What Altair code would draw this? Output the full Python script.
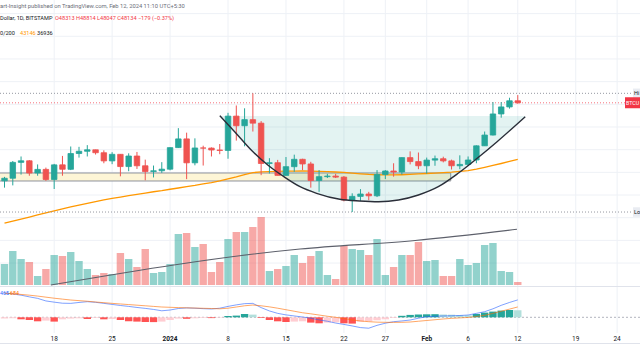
import altair as alt
import pandas as pd

# ---------------- data ----------------
dates = pd.date_range("2023-12-12", "2024-02-12", freq="D").strftime("%Y-%m-%d").tolist()

opens = [41250, 41480, 42880, 43020, 41940, 42260, 41370, 42660, 42270, 43660,
         43860, 43990, 43730, 43010, 43590, 42510, 43440, 42580, 42070, 42140,
         42280, 44180, 44950, 42840, 44150, 44140, 43970, 43930, 46960, 46110,
         46650, 46340, 42780, 42850, 41730, 42500, 43150, 42740, 41280, 41620,
         41670, 41580, 39560, 39880, 40090, 39930, 41810, 42120, 42030, 43300,
         42950, 42580, 43080, 43200, 43010, 42580, 42700, 43090, 44340, 45290,
         47150, 47770, 48313]
closes = [41480, 42880, 43020, 41940, 42260, 41370, 42660, 42270, 43660, 43860,
          43990, 43730, 43010, 43590, 42510, 43440, 42580, 42070, 42140, 42280,
          44180, 44950, 42840, 44150, 44140, 43970, 43930, 46960, 46110, 46650,
          46340, 42780, 42850, 41730, 42500, 43150, 42740, 41280, 41620, 41670,
          41580, 39560, 39880, 40090, 39930, 41810, 42120, 42030, 43300, 42950,
          42580, 43080, 43200, 43010, 42580, 42700, 43090, 44340, 45290, 47150,
          47770, 48313, 48134]
highs = [41600, 43000, 43400, 43080, 42700, 42420, 42750, 43450, 44280, 44250,
         44400, 44000, 43940, 43780, 43600, 43680, 43800, 43120, 42600, 42900,
         44200, 45900, 45500, 45000, 44350, 44200, 44500, 47250, 47900, 47650,
         48970, 46520, 43250, 43100, 43350, 43560, 43200, 42930, 42200, 41870,
         41870, 41680, 40150, 40520, 40280, 42200, 42200, 42800, 43320, 43850,
         43750, 43300, 43480, 43380, 43120, 43500, 43400, 44380, 45600, 48200,
         48200, 48580, 48814]
lows = [40650, 40850, 41800, 41700, 41700, 41250, 40530, 41700, 42200, 43300,
        43400, 43570, 42800, 42720, 41650, 42100, 42300, 41300, 41550, 41950,
        42180, 44150, 41400, 42620, 42600, 43400, 43600, 43200, 44800, 44300,
        45600, 41750, 41900, 41720, 41700, 42050, 42200, 40650, 40280, 41500,
        41500, 39440, 38500, 39480, 39540, 39820, 41400, 41620, 41800, 42700,
        42280, 41880, 42580, 42880, 42250, 42280, 42570, 42800, 44330, 45250,
        46820, 47620, 48047]
volumes = [2100, 3400, 2600, 2300, 900, 1600, 3000, 2900, 3300, 2400,
           1600, 1000, 1200, 1100, 3200, 2600, 1800, 3600, 1200, 1300,
           2100, 5100, 5200, 3800, 4100, 1300, 2300, 4600, 5300, 5300,
           5800, 6800, 1400, 1600, 1900, 3000, 2200, 2900, 3400, 1000,
           600, 3900, 3600, 3500, 3000, 4600, 1000, 1800, 3000, 3000,
           4300, 2400, 2500, 900, 900, 2600, 2000, 2200, 4000, 4200,
           1400, 1300, 300]
ma50 = [37520, 37700, 37880, 38060, 38240, 38420, 38600, 38780, 38950, 39110,
        39270, 39420, 39580, 39700, 39820, 39940, 40050, 40170, 40290, 40390,
        40510, 40620, 40740, 40850, 40980, 41100, 41250, 41420, 41600, 41800,
        41980, 42040, 42070, 42090, 42100, 42110, 42120, 42110, 42090, 42060,
        42030, 41990, 41930, 41870, 41820, 41790, 41770, 41770, 41790, 41820,
        41860, 41900, 41940, 41980, 42020, 42080, 42150, 42280, 42440, 42610,
        42780, 42960, 43146]
macd = [1600, 1540, 1460, 1350, 1250, 1080, 1000, 930, 920, 980,
        1030, 990, 920, 850, 780, 720, 650, 590, 520, 430,
        480, 580, 620, 600, 570, 550, 600, 720, 820, 900,
        920, 640, 420, 260, 160, 90, 20, -60, -170, -260,
        -380, -470, -570, -680, -720, -530, -390, -290, -240, -180,
        -60, 40, 70, 90, 100, 120, 150, 260, 370, 560,
        790, 980, 1149]
signal = [1590, 1560, 1510, 1460, 1400, 1330, 1260, 1200, 1140, 1100,
          1060, 1010, 965, 920, 880, 840, 800, 760, 720, 680,
          660, 640, 625, 610, 595, 580, 560, 600, 680, 760,
          810, 760, 690, 600, 500, 400, 300, 230, 150, 70,
          0, -80, -170, -240, -290, -320, -330, -335, -330, -310,
          -260, -210, -160, -110, -70, -40, -10, 50, 130, 260,
          400, 540, 684]
hist = [-86, -66, -132, -178, -264, -218, -284, -132, -86, -66,
        -112, -46, -132, -112, -178, -264, -284, -310, -317, -284,
        -178, -86, -99, -66, -46, -53, -33, 86, 112, 218,
        178, -46, -178, -264, -310, -284, -264, -350, -396, -350,
        -330, -396, -416, -297, -264, -198, -132, -46, 99, 158,
        185, 198, 205, 185, 172, 145, 132, 218, 310, 376,
        442, 482, 465]

# cup drawing (arc): day offset from 2024-01-01, price
cup_days = [6.0, 7.8, 9.8, 11.8, 13.75, 15.7, 17.7, 20.5, 22.9, 25.2, 27.6, 30.0, 32.4, 34.8, 37.1, 39.5, 42.9]
cup_prices = [46997, 45585, 43971, 42648, 41616, 40735, 40152, 39623, 39473, 39411, 39561, 40002, 40735, 41916, 43239, 44703, 46908]
cup_top = 46970

# volume trend line drawing
vtrend_days = [-14.4, 15.7, 29.6, 41.9]
vtrend_vals = [0, 3600, 4450, 5570]

# support zone
zone_start, zone_end = -21.0, 33.9
zone_lo, zone_hi = 41237, 41943

price_grid = [34000, 36000, 38000, 40000, 42000, 44000, 46000, 48000, 50000, 52000, 54000, 56000]
tick_days = [-14, -7, 0, 7, 14, 21, 26, 31, 36, 42, 49, 54]
tick_labels = ["18", "25", "2024", "8", "15", "22", "27", "Feb", "6", "12", "19", "24"]
tick_bold = [False, False, True, False, False, False, False, True, False, False, False, False]

hi_price, last_price, lo_price = 48970, 48134, 38500

# ---------------- frames ----------------
df = pd.DataFrame(dict(date=dates, open=opens, high=highs, low=lows, close=closes,
                       vol=volumes, ma=ma50, macd=macd, signal=signal, hist=hist))
df["day"] = (pd.to_datetime(df["date"]) - pd.Timestamp("2024-01-01")).dt.days
df["z"] = 0
prev = df["hist"].shift(1).fillna(df["hist"])
def hcol(h, p):
    if h >= 0:
        return "#26a69a" if h > p else "#b2dfdb"
    return "#ff5252" if h < p else "#ffcdd2"
df["hcol"] = [hcol(h, p) for h, p in zip(df["hist"], prev)]

cup = pd.DataFrame(dict(d=cup_days, p=cup_prices))
cup["top"] = cup_top
vtr = pd.DataFrame(dict(d=vtrend_days, v=vtrend_vals))
zone = pd.DataFrame(dict(x1=[zone_start], x2=[zone_end], lo=[zone_lo], hi=[zone_hi]))
grid = pd.DataFrame(dict(p=price_grid))
ticks = pd.DataFrame(dict(d=tick_days, lab=tick_labels, bold=tick_bold))
levels = pd.DataFrame(dict(p=[hi_price, lo_price]))
last = pd.DataFrame(dict(p=[last_price]))

# ---------------- scales ----------------
X = alt.Scale(domain=[-19.94, 56.16], range=[0, 640], nice=False, zero=False)
YP = alt.Scale(domain=[31976, 57201], range=[286, 0], nice=False, zero=False)
YV = alt.Scale(domain=[0, 7000], range=[285, 215], nice=False, zero=False)
YM = alt.Scale(domain=[-1036, 2000], range=[333, 287], nice=False, zero=False)

G, R = "#26a69a", "#ef5350"
FONT = "Roboto"
xd = alt.X("day:Q", scale=X, axis=None)
updown = alt.condition("datum.close >= datum.open", alt.value(G), alt.value(R))

base = alt.Chart(df)

vgrid = alt.Chart(ticks).mark_rule(color="#eef1f6", strokeWidth=1).encode(
    x=alt.X("d:Q", scale=X, axis=None), y=alt.value(0), y2=alt.value(333))
hgrid = alt.Chart(grid).mark_rule(color="#eef1f6", strokeWidth=1).encode(
    y=alt.Y("p:Q", scale=YP, axis=None))

zone_rect = alt.Chart(zone).mark_rect(fill="#fdf5d6", stroke="#8f939c", strokeWidth=1).encode(
    x=alt.X("x1:Q", scale=X, axis=None), x2="x2:Q",
    y=alt.Y("lo:Q", scale=YP, axis=None), y2="hi:Q")

cup_area = alt.Chart(cup).mark_area(interpolate="monotone", color="#26a69a", opacity=0.13).encode(
    x=alt.X("d:Q", scale=X, axis=None), y=alt.Y("p:Q", scale=YP, axis=None), y2="top:Q")

vol = base.mark_bar(size=7.4, opacity=0.5).encode(
    x=xd, y=alt.Y("vol:Q", scale=YV, axis=None), y2="z:Q", color=updown)

vtrend = alt.Chart(vtr).mark_line(color="#5d606b", strokeWidth=1.1, interpolate="monotone").encode(
    x=alt.X("d:Q", scale=X, axis=None), y=alt.Y("v:Q", scale=YV, axis=None))

ma_line = base.mark_line(color="#ff9800", strokeWidth=1.3).encode(
    x=xd, y=alt.Y("ma:Q", scale=YP, axis=None))

lvl = alt.Chart(levels).mark_rule(color="#9598a1", strokeDash=[1, 2], strokeWidth=1).encode(
    y=alt.Y("p:Q", scale=YP, axis=None))
lastline = alt.Chart(last).mark_rule(color="#f23645", strokeDash=[1, 2], strokeWidth=1, opacity=0.7).encode(
    y=alt.Y("p:Q", scale=YP, axis=None))

wick = base.mark_rule(strokeWidth=1).encode(
    x=xd, y=alt.Y("low:Q", scale=YP, axis=None), y2="high:Q", color=updown)
body = base.mark_bar(size=5.5, strokeWidth=0.8).encode(
    x=xd, y=alt.Y("open:Q", scale=YP, axis=None), y2="close:Q", color=updown, stroke=updown)

cup_line = alt.Chart(cup).mark_line(interpolate="monotone", color="#2a2e39", strokeWidth=1.4).encode(
    x=alt.X("d:Q", scale=X, axis=None), y=alt.Y("p:Q", scale=YP, axis=None))

one = pd.DataFrame(dict(a=[1]))
sep = alt.Chart(one).mark_rule(color="#e0e3eb", strokeWidth=1).encode(
    x=alt.value(0), x2=alt.value(640), y=alt.value(286.5))
sep2 = alt.Chart(one).mark_rule(color="#e0e3eb", strokeWidth=1).encode(
    x=alt.value(0), x2=alt.value(640), y=alt.value(343.5))

zero = alt.Chart(pd.DataFrame(dict(m=[0]))).mark_rule(color="#b2b5be", strokeDash=[2, 2], strokeWidth=1).encode(
    y=alt.Y("m:Q", scale=YM, axis=None))
hbars = base.mark_bar(size=7.4).encode(
    x=xd, y=alt.Y("hist:Q", scale=YM, axis=None), y2="z:Q",
    color=alt.Color("hcol:N", scale=None))
macd_line = base.mark_line(color="#2962ff", strokeWidth=1, opacity=0.6).encode(
    x=xd, y=alt.Y("macd:Q", scale=YM, axis=None))
sig_line = base.mark_line(color="#ff6d00", strokeWidth=1, opacity=0.6).encode(
    x=xd, y=alt.Y("signal:Q", scale=YM, axis=None))

tick_norm = alt.Chart(ticks).transform_filter("!datum.bold").mark_text(
    font=FONT, fontSize=6.5, color="#131722", baseline="middle").encode(
    x=alt.X("d:Q", scale=X, axis=None), y=alt.value(339), text="lab:N")
tick_bold_t = alt.Chart(ticks).transform_filter("datum.bold").mark_text(
    font=FONT, fontSize=6.5, color="#131722", baseline="middle", fontWeight="bold").encode(
    x=alt.X("d:Q", scale=X, axis=None), y=alt.value(339), text="lab:N")

def txt(s, x, y, color="#131722", size=5.6, weight="normal", align="left"):
    return alt.Chart(one).mark_text(text=s, font=FONT, fontSize=size, color=color, fontWeight=weight,
                                    align=align, baseline="middle").encode(x=alt.value(x), y=alt.value(y))

header = [
    txt("art-Insight published on TradingView.com, Feb 12, 2024 11:10 UTC+5:30", 0, 6, "#6a6d78", 5.8),
    txt("Dollar, 1D, BITSTAMP", 0, 18),
    txt("O48313  H48814  L48047  C48134  \u2212179 (\u22120.37%)", 55, 18, "#f23645"),
    txt("0/200", 0, 33),
    txt("43146", 20, 33, "#ff9800"),
    txt("36936", 37, 33),
    txt("465", 0, 293, "#2962ff", 5.3),
    txt("684", 10, 293, "#ff6d00", 5.3),
]

tag_df = pd.DataFrame(dict(p=[hi_price, lo_price], lab=["Hi", "Lo"]))
tags_gray = alt.Chart(tag_df).transform_calculate(a="datum.p - 420", b="datum.p + 420").mark_rect(
    fill="#e9ecf2").encode(x=alt.value(633), x2=alt.value(660),
                           y=alt.Y("a:Q", scale=YP, axis=None), y2="b:Q")
tags_gray_t = alt.Chart(tag_df).mark_text(font=FONT, fontSize=5.5, color="#131722", align="left",
                                          baseline="middle").encode(
    x=alt.value(634), y=alt.Y("p:Q", scale=YP, axis=None), text="lab:N")
tag_red = alt.Chart(last).transform_calculate(a="datum.p - 480", b="datum.p + 480").mark_rect(
    fill="#f23645").encode(x=alt.value(625), x2=alt.value(660),
                           y=alt.Y("a:Q", scale=YP, axis=None), y2="b:Q")
tag_red_t = alt.Chart(last).mark_text(text="BTCU", font=FONT, fontSize=5.3, color="white", align="left",
                                      baseline="middle").encode(
    x=alt.value(626), y=alt.Y("p:Q", scale=YP, axis=None))

layers = [vgrid, hgrid, zone_rect, cup_area, vol, vtrend, ma_line, lvl, lastline,
          wick, body, cup_line, sep, sep2, zero, hbars, macd_line, sig_line, tick_norm, tick_bold_t,
          tags_gray, tags_gray_t, tag_red, tag_red_t] + header

chart = alt.layer(*layers).resolve_scale(y="independent").properties(
    width=640, height=360, padding=0,
    autosize=alt.AutoSizeParams(type="none"),
    background="white",
).configure_view(strokeWidth=0)

chart.save("out.html", embed_options={"renderer": "svg", "actions": False})
